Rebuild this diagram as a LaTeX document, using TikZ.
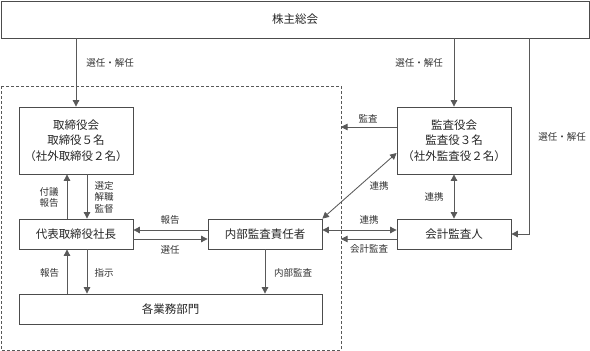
\documentclass[tikz,border=0pt]{standalone}
\usepackage{fontspec}
\setmainfont{Noto Sans CJK JP}
\usetikzlibrary{arrows.meta}
\tikzset{
  box/.style={draw=black!70, line width=0.8pt, rectangle, inner sep=0pt, align=center,
    font=\fontsize{11.5}{15.5}\selectfont, text=black!85},
  lbl/.style={inner sep=0pt, align=center, font=\fontsize{9.5}{11.5}\selectfont, text=black!80},
  ln/.style={draw=black!65, line width=0.85pt},
  arr/.style={ln, -{Triangle[length=6.5pt,width=6.5pt]}},
  barr/.style={ln, {Triangle[length=6.5pt,width=6.5pt]}-{Triangle[length=6.5pt,width=6.5pt]}},
}
\begin{document}
\begin{tikzpicture}[x=1pt,y=-1pt]
\useasboundingbox (0,0) rectangle (590,351);
% group
\coordinate (g1) at (1,86);
\coordinate (g2) at (341,350);
\draw[ln, dashed, dash pattern=on 3pt off 2pt] (g1) rectangle (g2);
% boxes
\node[box, minimum width=588, minimum height=37] (top) at (295,19.5) {株主総会};
\node[box, minimum width=114, minimum height=67] (tor) at (76,140.5) {取締役会\\取締役５名\\（社外取締役２名）};
\node[box, minimum width=114, minimum height=67] (kan) at (454,140.5) {監査役会\\監査役３名\\（社外監査役２名）};
\node[box, minimum width=114, minimum height=30] (pres) at (76,234) {代表取締役社長};
\node[box, minimum width=114, minimum height=30] (naibu) at (265,234) {内部監査責任者};
\node[box, minimum width=114, minimum height=30] (kaikei) at (454,234) {会計監査人};
\node[box, minimum width=303, minimum height=30] (bumon) at (170.5,309) {各業務部門};
\coordinate (rl) at (529,38);
% connectors
\draw[arr] (tor.north |- top.south) -- (tor.north);
\draw[arr] (kan.north |- top.south) -- (kan.north);
\draw[arr] (rl) |- (kaikei.east);
\draw[arr] ([xshift=-9pt]pres.north) -- ([xshift=-9pt]tor.south);
\draw[arr] ([xshift=11pt]tor.south) -- ([xshift=11pt]pres.north);
\draw[arr] ([xshift=-9pt]pres.south |- bumon.north) -- ([xshift=-9pt]pres.south);
\draw[arr] ([xshift=11pt]pres.south) -- ([xshift=11pt]pres.south |- bumon.north);
\draw[arr] (naibu.south) -- (naibu.south |- bumon.north);
\draw[arr] ([yshift=4pt]naibu.west) -- ([yshift=4pt]pres.east);
\draw[arr] ([yshift=-5pt]pres.east) -- ([yshift=-5pt]naibu.west);
\draw[arr] ([yshift=13.5pt]kan.west) -- ([yshift=13.5pt]kan.west -| g2);
\draw[barr] ([yshift=-12.5pt]kan.west) -- (naibu.north east);
\draw[barr] (kan.south) -- (kaikei.north);
\draw[barr] ([yshift=4pt]naibu.east) -- ([yshift=4pt]kaikei.west);
\draw[arr] ([yshift=-5pt]kaikei.west) -- ([yshift=-5pt]kaikei.west -| g2);
% labels
\node[lbl] (l1) at (110,63) {選任・解任};
\node[lbl] (l2) at (419,63) {選任・解任};
\node[lbl] (l3) at (562,137) {選任・解任};
\node[lbl] (l4) at (368,119) {監査};
\node[lbl] (l5) at (379,186) {連携};
\node[lbl] (l6) at (434,197) {連携};
\node[lbl] (l7) at (369,220) {連携};
\node[lbl] (l8) at (369,249) {会計監査};
\node[lbl] (l9) at (49,197.5) {付議\\報告};
\node[lbl] (l10) at (104,197) {選定\\解職\\監督};
\node[lbl] (l11) at (170,220) {報告};
\node[lbl] (l12) at (170,250) {選任};
\node[lbl] (l13) at (49.5,273) {報告};
\node[lbl] (l14) at (104,273) {指示};
\node[lbl] (l15) at (293,273) {内部監査};
\end{tikzpicture}
\end{document}
